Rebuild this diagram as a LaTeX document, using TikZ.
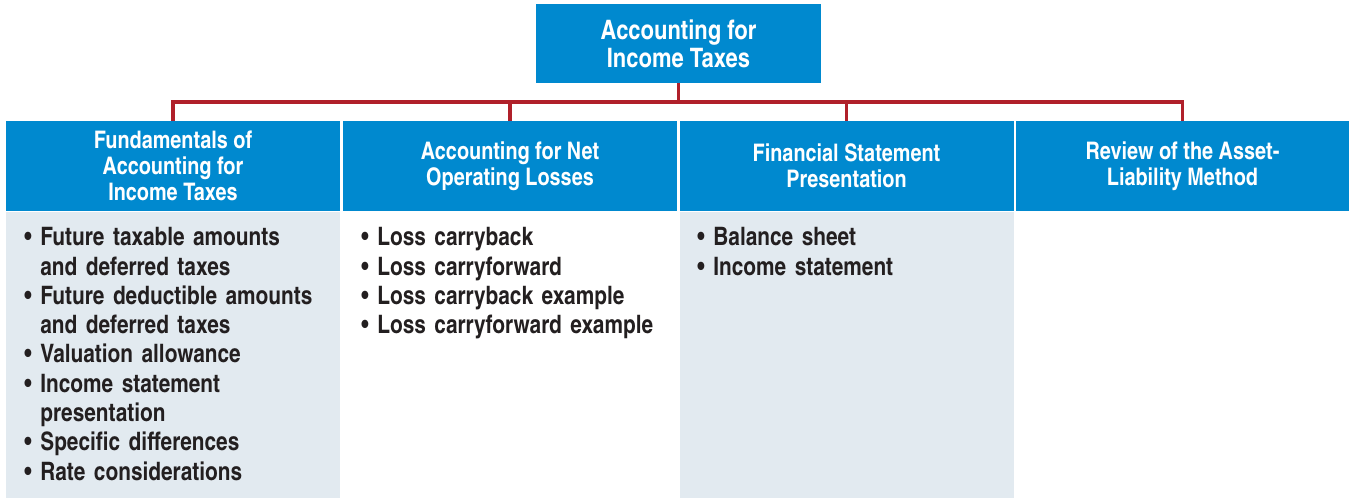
\documentclass[tikz,border=0pt]{standalone}
\usepackage{fontspec}
\setmainfont{texgyreheroscn}[Extension=.otf, UprightFont=*-regular, BoldFont=*-bold, ItalicFont=*-italic, BoldItalicFont=*-bolditalic]
\usetikzlibrary{positioning}
\definecolor{topblue}{HTML}{0089CF}
\definecolor{panelgrey}{HTML}{E2EAF0}
\definecolor{linkred}{HTML}{B0202A}
\definecolor{inkdark}{HTML}{231F20}
\newcommand{\itm}[1]{\par\noindent\hangindent=8pt\hangafter=1\makebox[8pt][l]{\textbullet}#1}

\begin{document}
\begin{tikzpicture}[
	x=0.5pt, y=-0.5pt,
	every node/.style={font=\bfseries\fontsize{12.1}{13}\selectfont},
	topbox/.style={fill=topblue, text=white, align=center, inner sep=0pt,
		minimum width=142.5pt, minimum height=39.5pt,
		font=\bfseries\fontsize{13.4}{14}\selectfont},
	headbox/.style={fill=topblue, text=white, align=center, inner sep=0pt,
		minimum width=167pt, minimum height=45pt},
	panel/.style={fill=panelgrey, inner sep=0pt, minimum width=167pt, minimum height=143pt},
	list/.style={anchor=north west, inner sep=0pt, text width=160pt, align=left, text=inkdark,
		font=\bfseries\fontsize{12.7}{14.65}\selectfont},
	link/.style={draw=linkred, line width=1.8pt}
	]
	
	\useasboundingbox (0,0) rectangle (1349,498);
	
	%--- top of the tree ---
	\node[topbox] (top) at (678.5,43.5) {Accounting for\\Income Taxes};
	
	%--- column heads ---
	\node[headbox] (head1) at (173,166) {Fundamentals of\\Accounting for\\Income Taxes};
	\node[headbox] (head2) at (510,166) {Accounting for Net\\Operating Losses};
	\node[headbox] (head3) at (846.5,166) {Financial Statement\\Presentation};
	\node[headbox] (head4) at (1182.5,166) {Review of the Asset-\\Liability Method};
	
	%--- shaded panels ---
	\node[panel, below=0pt of head1] (panel1) {};
	\node[panel, below=0pt of head3] (panel3) {};
	
	%--- topic lists ---
	\node[list] (list1) at (24,216) {
		\itm{Future taxable amounts\newline and deferred taxes}
		\itm{Future deductible amounts\newline and deferred taxes}
		\itm{Valuation allowance}
		\itm{Income statement\newline presentation}
		\itm{Specific differences}
		\itm{Rate considerations}
	};
	\node[list] (list2) at (361,216) {
		\itm{Loss carryback}
		\itm{Loss carryforward}
		\itm{Loss carryback example}
		\itm{Loss carryforward example}
	};
	\node[list] (list3) at (697,216) {
		\itm{Balance sheet}
		\itm{Income statement}
	};
	
	%--- connectors ---
	\coordinate (bar) at (678.5,102);
	\draw[link] (top.south) -- (bar);
	\draw[link] (head1.north) |- (bar) -| (head4.north);
	\draw[link] (head2.north) -- (head2.north |- bar);
	\draw[link] (head3.north) -- (head3.north |- bar);
	
\end{tikzpicture}
\end{document}
